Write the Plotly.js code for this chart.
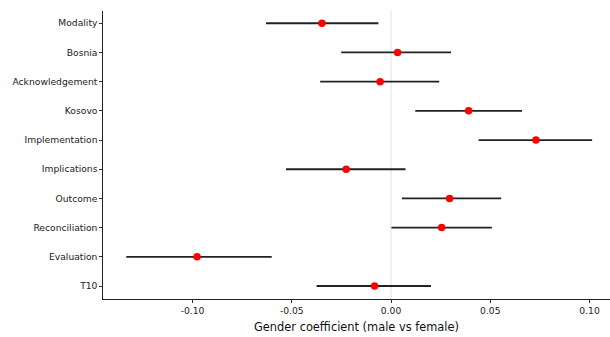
<!DOCTYPE html>
<html>
<head>
<meta charset="utf-8">
<script src="https://cdn.plot.ly/plotly-3.0.1.min.js"></script>
<style>html,body{margin:0;padding:0;background:#fff;}#chart{width:610px;height:337px;}</style>
</head>
<body>
<div id="chart"></div>
<script>
const categories = ["Modality","Bosnia","Acknowledgement","Kosovo","Implementation","Implications","Outcome","Reconciliation","Evaluation","T10"];
const estimates = [-0.0348, 0.0033, -0.0055, 0.0391, 0.0730, -0.0226, 0.0295, 0.0255, -0.0977, -0.0083];
const lower    = [-0.0630, -0.0251, -0.0357, 0.0122, 0.0441, -0.0529, 0.0055, 0.0002, -0.1334, -0.0375];
const upper    = [-0.0064, 0.0302, 0.0243, 0.0660, 0.1013, 0.0073, 0.0555, 0.0508, -0.0601, 0.0201];
const xTicks = [-0.10, -0.05, 0.00, 0.05, 0.10];
const xTickLabels = ["-0.10", "-0.05", "0.00", "0.05", "0.10"];

const n = categories.length;
const ypos = categories.map((c, i) => n - 1 - i);

const traces = [
  {
    type: "scatter", mode: "lines",
    x: [0, 0], y: [-0.45, n - 1 + 0.42],
    line: {color: "#ebebeb", width: 1.5},
    hoverinfo: "skip", showlegend: false
  },
  {
    type: "scatter", mode: "markers",
    x: estimates, y: ypos,
    error_x: {
      type: "data", symmetric: false,
      array: upper.map((u, i) => u - estimates[i]),
      arrayminus: lower.map((l, i) => estimates[i] - l),
      color: "#222222", thickness: 1.8, width: 0
    },
    marker: {color: "#ff0000", size: 7.5},
    showlegend: false
  }
];

const layout = {
  width: 610, height: 337,
  margin: {l: 103, r: 0, t: 11, b: 38},
  paper_bgcolor: "#ffffff", plot_bgcolor: "#ffffff",
  font: {family: "DejaVu Sans, sans-serif", color: "#222222", size: 9.2},
  xaxis: {
    range: [-0.1451, 0.1103],
    tickvals: xTicks, ticktext: xTickLabels,
    showgrid: false, zeroline: false,
    showline: true, linecolor: "#222222", linewidth: 1.2,
    ticks: "outside", ticklen: 2.5, tickcolor: "#333333", tickwidth: 1,
    tickfont: {size: 9.2, color: "#222222"},
    title: {text: "Gender coefficient (male vs female)", font: {size: 11.4, color: "#111111"}, standoff: 8}
  },
  yaxis: {
    range: [-0.445, n - 1 + 0.42],
    tickvals: ypos, ticktext: categories,
    showgrid: false, zeroline: false,
    showline: true, linecolor: "#222222", linewidth: 1.2,
    ticks: "outside", ticklen: 2.5, tickcolor: "#333333", tickwidth: 1,
    tickfont: {size: 9.2, color: "#222222"}
  }
};

Plotly.newPlot("chart", traces, layout, {staticPlot: true, displayModeBar: false});
</script>
</body>
</html>
